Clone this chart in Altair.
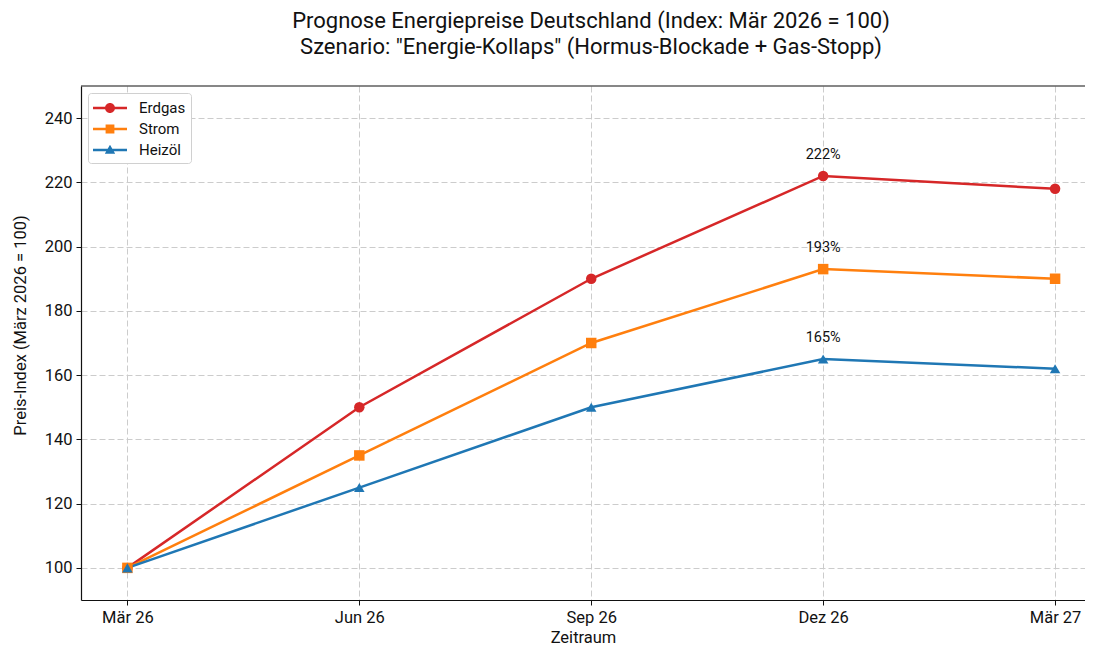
import altair as alt
import pandas as pd

months = ["Mär 26", "Jun 26", "Sep 26", "Dez 26", "Mär 27"]
series = ["Erdgas", "Strom", "Heizöl"]
erdgas = [100, 150, 190, 222, 218]
strom = [100, 135, 170, 193, 190]
heizoel = [100, 125, 150, 165, 162]
colors = ["#d62728", "#ff7f0e", "#1f77b4"]
markers = ["circle", "square", "triangle-up"]
annot_idx = 3

rows = []
for name, vals in zip(series, [erdgas, strom, heizoel]):
    for i, v in enumerate(vals):
        rows.append({"idx": i, "Monat": months[i], "Serie": name, "Wert": v,
                     "Label": f"{v}%" if i == annot_idx else ""})
df = pd.DataFrame(rows)

FONT = "Roboto"
W, H = 1004, 514
xscale = alt.Scale(domain=[-0.2, 4.129], nice=False, zero=False)
yscale = alt.Scale(domain=[90, 250], nice=False, zero=False)
label_expr = "[" + ",".join(f"'{m}'" for m in months) + "][datum.value]"

base = alt.Chart(df)

x_main = alt.X("idx:Q", scale=xscale,
               axis=alt.Axis(values=list(range(len(months))), labelExpr=label_expr,
                             title="Zeitraum", grid=True))
y_main = alt.Y("Wert:Q", scale=yscale,
               axis=alt.Axis(values=[100, 120, 140, 160, 180, 200, 220, 240],
                             title="Preis-Index (März 2026 = 100)", grid=True,
                             titleY=239))

color_scale = alt.Scale(domain=series, range=colors)

lines = base.mark_line(strokeWidth=2.5, clip=True).encode(
    x=x_main, y=y_main,
    color=alt.Color("Serie:N", scale=color_scale, legend=None),
    order=alt.Order("idx:Q"),
)

points = base.mark_point(filled=True, size=110, opacity=1, clip=True).encode(
    x=alt.X("idx:Q", scale=xscale),
    y=alt.Y("Wert:Q", scale=yscale),
    color=alt.Color("Serie:N", scale=color_scale, legend=None),
    shape=alt.Shape("Serie:N", scale=alt.Scale(domain=series, range=markers), legend=None),
)

texts = base.transform_filter("datum.Label != ''").mark_text(
    dy=-21, fontSize=14.5, font=FONT, color="#111"
).encode(
    x=alt.X("idx:Q", scale=xscale),
    y=alt.Y("Wert:Q", scale=yscale),
    text="Label:N",
)

top_spine = alt.Chart(pd.DataFrame({"s": [0]})).mark_rule(
    color="#111", strokeWidth=1.2
).encode(x=alt.value(0), x2=alt.value(W), y=alt.value(0))

leg_paths = [
    "M-1.7,-0.125H1.7V0.125H-1.7Z M-0.5,0A0.5,0.5 0 1,1 0.5,0A0.5,0.5 0 1,1 -0.5,0Z",
    "M-1.7,-0.125H1.7V0.125H-1.7Z M-0.44,-0.44H0.44V0.44H-0.44Z",
    "M-1.7,-0.125H1.7V0.125H-1.7Z M0,-0.52L0.52,0.38L-0.52,0.38Z",
]

legend_layer = base.transform_filter("false").mark_point(filled=True).encode(
    x=alt.X("idx:Q", scale=xscale),
    y=alt.Y("Wert:Q", scale=yscale),
    color=alt.Color("Serie:N", scale=alt.Scale(domain=series, range=colors),
                    legend=alt.Legend(title=None)),
    shape=alt.Shape("Serie:N", scale=alt.Scale(domain=series, range=leg_paths),
                    legend=alt.Legend(title=None)),
)

chart = alt.layer(lines, points, texts, top_spine, legend_layer).resolve_scale(
    color="independent", shape="independent"
).properties(
    width=W, height=H,
    autosize=alt.AutoSizeParams(type="none"),
    padding={"left": 73, "top": 78, "right": 0, "bottom": 47},
    title=alt.Title(
        ["Prognose Energiepreise Deutschland (Index: Mär 2026 = 100)",
         'Szenario: "Energie-Kollaps" (Hormus-Blockade + Gas-Stopp)'],
        fontSize=22, font=FONT, fontWeight="normal", color="#111",
        anchor="middle", dx=8, offset=26, lineHeight=26,
    ),
).configure_view(stroke=None).configure_axis(
    labelFont=FONT, titleFont=FONT, labelFontSize=16.5, titleFontSize=16.5,
    labelColor="#111", titleColor="#111", titleFontWeight="normal",
    domainColor="#111", domainWidth=1.2, tickColor="#111", tickSize=5,
    gridColor="#cccccc", gridDash=[6, 3], gridWidth=1, labelPadding=4,
).configure_axisX(titlePadding=4).configure_axisY(titlePadding=16).configure_legend(
    orient="none", legendX=7, legendY=7, fillColor="white", strokeColor="#d0d0d0",
    cornerRadius=3, padding=5, symbolSize=400, symbolStrokeWidth=0,
    symbolOffset=7, labelOffset=19, labelFont=FONT, labelFontSize=15,
    labelColor="#111", rowPadding=3, symbolOpacity=1,
)

chart.save("out.html", embed_options={"renderer": "svg", "actions": False})
